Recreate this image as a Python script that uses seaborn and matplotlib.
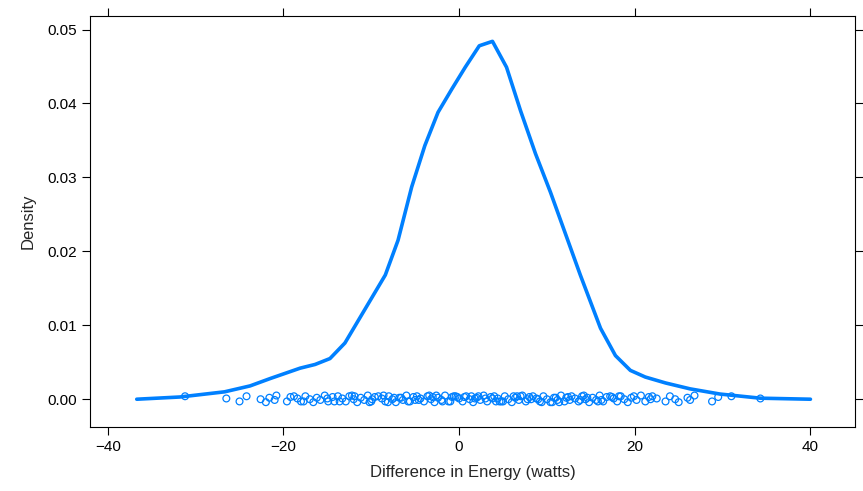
import numpy as np
import pandas as pd
import matplotlib
matplotlib.use('Agg')
import matplotlib.pyplot as plt
import seaborn as sns

# density curve
curve_x = [-36.7, -31.8, -26.7, -23.8, -21.5, -18.1, -16.4, -14.7, -13.0, -11.3, -8.4, -6.95,
           -5.4, -3.9, -2.4, -0.8, 0.7, 2.3, 3.8, 5.4, 7.0, 8.7, 10.4, 12.1, 13.8, 16.1, 17.8,
           19.5, 21.2, 23.5, 26.3, 29.7, 34.3, 40.0]
curve_y = [0.0, 0.0003, 0.001, 0.0018, 0.0028, 0.0042, 0.0047, 0.0055, 0.0076, 0.011, 0.0168,
           0.0215, 0.0287, 0.0343, 0.0388, 0.042, 0.0449, 0.0478, 0.0484, 0.0449, 0.039, 0.0332,
           0.028, 0.0224, 0.0168, 0.0096, 0.0059, 0.0039, 0.003, 0.0022, 0.0014, 0.0007,
           0.00014, 0.0]

# observed differences (rug points, jittered vertically)
obs_x = [-31.2, -26.5, -25.0, -24.2, -22.6, -22.0, -21.6, -21.0, -20.8, -19.6, -19.2, -18.8,
         -18.4, -18.0, -17.5, -17.0, -16.6, -16.2, -15.8, -15.3, -14.9, -14.4, -13.8, -13.3,
         -12.9, -12.5, -12.0, -11.6, -11.2, -10.8, -10.4, -10.0, -9.6, -9.2, -8.8, -8.4,
         -8.0, -7.6, -7.2, -6.8, -6.4, -6.0, -5.6, -5.2, -4.8, -4.4, -4.0, -3.6, -3.2, -2.8,
         -2.4, -2.0, -1.6, -1.2, -0.8, -0.4, 0.0, 0.4, 0.8, 1.2, 1.6, 2.0, 2.4, 2.8, 3.2,
         3.6, 4.0, 4.4, 4.8, 5.2, 5.6, 6.0, 6.4, 6.8, 7.2, 7.6, 8.0, 8.4, 8.8, 9.2, 9.6,
         10.0, 10.4, 10.8, 11.2, 11.6, 12.0, 12.4, 12.8, 13.2, 13.6, 14.0, 14.4, 14.8, 15.2,
         15.6, 16.0, 16.4, 16.8, 17.2, 17.6, 18.0, 18.4, 18.8, 19.2, 19.6, 20.2, 20.7, 21.2,
         21.6, 22.0, 22.5, 23.5, 24.0, 24.6, 25.0, 26.0, 26.3, 26.8, 28.8, 29.5, 31.0, 34.3,
         -13.6, -11.9, -9.9, -8.1, -6.6, -5.0, -3.4, -1.9, -0.2, 1.4, 3.0, 4.6, 6.2, 7.8,
         9.4, 11.0, 12.6, 14.2, 15.8, 17.4, 18.2, -15.0, -17.7, 19.9, 21.8,
         -10.2, -7.4, -4.6, -2.6, -1.0, 0.6, 2.2, 3.8, 5.0, 6.6, 8.2, 10.6, 12.2, 13.8,
         -8.6, -5.8, -3.0, -0.6, 1.8, 4.2, 7.0, 9.0, 11.4, 14.6, 16.2, -12.2, -14.2]
jitter = [0.0004, 0.0001, -0.0003, 0.0004, 0.0, -0.0004, 0.0002, -0.0001, 0.0005, -0.0003, 0.0003]
obs_y = [jitter[i % len(jitter)] for i in range(len(obs_x))]

blue = '#0080ff'
sns.set_style('white')
plt.rcParams['font.family'] = ['Liberation Sans', 'DejaVu Sans']

fig = plt.figure(figsize=(8.63, 4.91), dpi=100)
ax = fig.add_axes([0.104, 0.130, 0.887, 0.837])

sns.lineplot(x=curve_x, y=curve_y, ax=ax, color=blue, linewidth=2.6)
sns.scatterplot(x=obs_x, y=obs_y, ax=ax, facecolor='none', edgecolor=blue, s=24, linewidth=0.9)

ax.set_xlim(-42.05, 45.1)
ax.set_ylim(-0.00378, 0.0518)
ax.set_xticks([-40, -20, 0, 20, 40])
ax.set_xticklabels(['\u221240', '\u221220', '0', '20', '40'])
ax.set_yticks([0, 0.01, 0.02, 0.03, 0.04, 0.05])
ax.set_yticklabels(['0.00', '0.01', '0.02', '0.03', '0.04', '0.05'])
ax.tick_params(direction='out', length=6, width=0.8, colors='black', labelsize=11,
               top=True, right=True, bottom=True, left=True)
for s in ax.spines.values():
    s.set_color('black')
    s.set_linewidth(0.8)
ax.set_xlabel('Difference in Energy (watts)', fontsize=12, labelpad=8)
ax.set_ylabel('Density', fontsize=12, labelpad=8)

fig.savefig('out.png', dpi=100)
